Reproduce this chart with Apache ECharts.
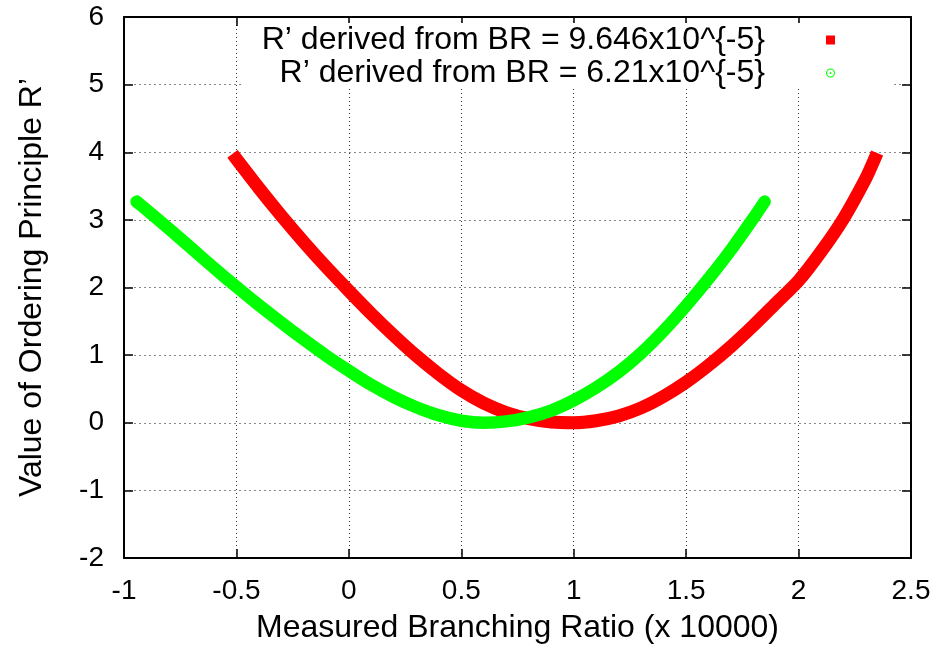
<!DOCTYPE html>
<html>
<head>
<meta charset="utf-8">
<script src="https://cdn.jsdelivr.net/npm/echarts@6/dist/echarts.min.js"></script>
<style>
html,body{margin:0;padding:0;background:#fff;}
#chart{width:943px;height:662px;}
</style>
</head>
<body>
<div id="chart"></div>
<script>
// ---- data ----
const redName = 'R\u2019 derived from BR = 9.646x10^{-5}';
const greenName = 'R\u2019 derived from BR = 6.21x10^{-5}';

const redX = [-0.5, -0.4, -0.3, -0.2, -0.1, 0.0, 0.1, 0.2, 0.3, 0.4, 0.5, 0.6, 0.7, 0.8, 0.9, 1.0,
              1.1, 1.2, 1.3, 1.4, 1.5, 1.6, 1.7, 1.8, 1.9, 2.0, 2.1, 2.2, 2.3, 2.338];
const redY = [3.9, 3.47, 3.06, 2.67, 2.3, 1.95, 1.61, 1.29, 0.99, 0.72, 0.48, 0.29, 0.15, 0.06, 0.01, 0.0,
              0.03, 0.1, 0.22, 0.39, 0.6, 0.85, 1.13, 1.44, 1.77, 2.1, 2.53, 3.02, 3.62, 3.9];

const greenX = [-0.944, -0.9, -0.8, -0.7, -0.6, -0.5, -0.4, -0.3, -0.2, -0.1, 0.0, 0.1, 0.2, 0.3, 0.4, 0.5,
                0.6, 0.7, 0.8, 0.9, 1.0, 1.1, 1.2, 1.3, 1.4, 1.5, 1.6, 1.7, 1.8, 1.849];
const greenY = [3.27, 3.15, 2.87, 2.58, 2.29, 2.01, 1.74, 1.48, 1.23, 0.99, 0.77, 0.56, 0.38, 0.23, 0.11, 0.03,
                0.0, 0.02, 0.08, 0.18, 0.33, 0.52, 0.75, 1.03, 1.36, 1.73, 2.13, 2.56, 3.03, 3.27];

const xMin = -1, xMax = 2.5, xStep = 0.5;
const yMin = -2, yMax = 6, yStep = 1;
const xTitle = 'Measured Branching Ratio (x 10000)';
const yTitle = 'Value of Ordering Principle R\u2019';

// ---- chart ----
const FONT = '"Liberation Sans", Arial, Helvetica, sans-serif';
const zip = (xs, ys) => xs.map((x, i) => [x, ys[i]]);

const chart = echarts.init(document.getElementById('chart'), null, {renderer: 'canvas'});

const frameLine = {show: true, onZero: false, lineStyle: {color: '#000', width: 2}};
const inTick = {show: true, inside: true, length: 9, lineStyle: {color: '#000', width: 1.5}};

const ringIcon = 'path://M5,0A5,5,0,1,1,4.99,0Z M5,1.2A3.8,3.8,0,1,0,5.01,1.2Z M5,4A1,1,0,1,1,4.99,4Z';

const legendBase = {
  orient: 'vertical',
  align: 'right',
  right: 108,
  padding: 0,
  itemWidth: 9,
  itemHeight: 9,
  selectedMode: false,
  textStyle: {fontFamily: FONT, fontSize: 32, color: '#000', lineHeight: 32, padding: [0, 56, 0, 0]}
};

chart.setOption({
  backgroundColor: '#fff',
  animation: false,
  grid: {left: 124, right: 32, top: 17, bottom: 104, containLabel: false},
  legend: [
    Object.assign({}, legendBase, {top: 24, data: [{name: redName, icon: 'rect'}]}),
    Object.assign({}, legendBase, {top: 57, data: [{name: greenName, icon: ringIcon}]})
  ],
  graphic: [{
    type: 'rect', z: 1, silent: true,
    shape: {x: 242, y: 23, width: 651, height: 65},
    style: {fill: '#fff'}
  }],
  xAxis: [{
    type: 'value', min: xMin, max: xMax, interval: xStep, position: 'bottom',
    name: xTitle, nameLocation: 'middle', nameGap: 54,
    nameTextStyle: {fontFamily: FONT, fontSize: 32, color: '#000'},
    axisLine: frameLine, axisTick: inTick,
    axisLabel: {fontFamily: FONT, fontSize: 28, color: '#000', margin: 19},
    splitLine: {show: true, showMinLine: false, showMaxLine: false,
                lineStyle: {color: '#333', width: 1, type: [1, 3]}}
  }, {
    type: 'value', min: xMin, max: xMax, interval: xStep, position: 'top',
    axisLine: frameLine, axisTick: inTick, axisLabel: {show: false}, splitLine: {show: false}
  }],
  yAxis: [{
    type: 'value', min: yMin, max: yMax, interval: yStep, position: 'left',
    name: yTitle, nameLocation: 'middle', nameGap: 76,
    nameTextStyle: {fontFamily: FONT, fontSize: 32, color: '#000'},
    axisLine: frameLine, axisTick: inTick,
    axisLabel: {fontFamily: FONT, fontSize: 28, color: '#000', margin: 20},
    splitLine: {show: true, showMinLine: false, showMaxLine: false,
                lineStyle: {color: '#888', width: 1, type: [2, 3]}}
  }, {
    type: 'value', min: yMin, max: yMax, interval: yStep, position: 'right',
    axisLine: frameLine, axisTick: inTick, axisLabel: {show: false}, splitLine: {show: false}
  }],
  series: [{
    name: redName, type: 'line', xAxisIndex: 0, yAxisIndex: 0,
    data: zip(redX, redY), smooth: 0.25, showSymbol: false, symbol: 'rect',
    itemStyle: {color: '#ff0000'},
    lineStyle: {color: '#ff0000', width: 13, cap: 'square', join: 'round'},
    emphasis: {disabled: true}, z: 3
  }, {
    name: greenName, type: 'line', xAxisIndex: 0, yAxisIndex: 0,
    data: zip(greenX, greenY), smooth: 0.25, showSymbol: false, symbol: ringIcon,
    itemStyle: {color: '#00ff00'},
    lineStyle: {color: '#00ff00', width: 12.5, cap: 'round', join: 'round'},
    emphasis: {disabled: true}, z: 4
  }]
});
</script>
</body>
</html>
